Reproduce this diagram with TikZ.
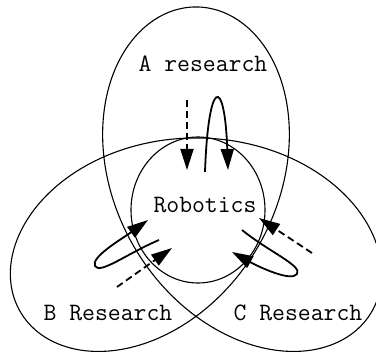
\documentclass[tikz,border=0pt]{standalone}
\usetikzlibrary{arrows.meta,positioning}

\begin{document}
\begin{tikzpicture}[
    x=1pt, y=1pt,
    field/.style={draw, line width=1.1pt},
    flow/.style={line width=1.8pt, -{Triangle[length=21pt,width=13pt]}},
    feed/.style={flow, dash pattern=on 7pt off 4pt},
    fieldname/.style={font=\ttfamily\fontsize{25}{28}\selectfont, anchor=base, inner sep=0pt}
  ]
  \useasboundingbox (0,0) rectangle (376,354);
  \clip (0,0) rectangle (376,354);

  % the three research fields as one trefoil, robotics in the middle
  \draw[field] plot[domain=0:360, samples=241, smooth, variable=\t]
    ({196 + 65.5*(sin(\t) + 2.1*sin(2*\t))}, {144 - 65.5*(cos(\t) - 2.1*cos(2*\t))});
  \draw[field] (198,144) ellipse [x radius=67, y radius=73];

  \node[fieldname] (a)   at (203,282) {A research};
  \node[fieldname] (rob) at (205,141) {Robotics};
  \node[fieldname] (b)   at (108,33)  {B Research};
  \node[fieldname] (c)   at (298,33)  {C Research};

  % ends of the arrows
  \coordinate (adash) at (187,254);
  \coordinate (ain)   at (187,184);
  \coordinate (aout)  at (205,182);
  \coordinate (aback) at (228,184);
  \coordinate (bdash) at (117,67);
  \coordinate (bin)   at (172,106);
  \coordinate (bout)  at (159,114);
  \coordinate (bturn) at (95,88);
  \coordinate (bback) at (148,134);
  \coordinate (cdash) at (312,101);
  \coordinate (cin)   at (259,136);
  \coordinate (cout)  at (242,124);
  \coordinate (cturn) at (297,80);
  \coordinate (cback) at (232,102);

  \draw[feed] (adash) -- (ain);
  \draw[flow] (aout) .. controls +(88:95) and +(92:95) .. (aback);
  \draw[feed] (bdash) -- (bin);
  \draw[flow] (bout) .. controls +(203:35) and +(300:10) .. (bturn)
                     .. controls +(120:10) and +(216:30) .. (bback);
  \draw[feed] (cdash) -- (cin);
  \draw[flow] (cout) .. controls +(321:35) and +(56:10) .. (cturn)
                     .. controls +(236:10) and +(331:30) .. (cback);
\end{tikzpicture}
\end{document}
